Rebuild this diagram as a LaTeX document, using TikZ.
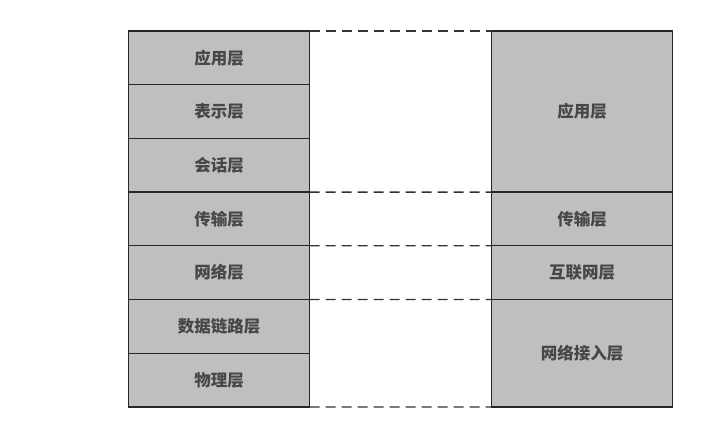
\documentclass[tikz,border=0pt]{standalone}
\usepackage{fontspec}
\newfontfamily\cjk{Noto Sans CJK SC}
\usetikzlibrary{positioning}

\begin{document}
\begin{tikzpicture}[
        x=1pt, y=-1pt,
        node distance=0pt,
        every node/.style={font=\cjk\bfseries\fontsize{16.5}{18}\selectfont, text=black!72},
        layer/.style={rectangle, draw=black!85, line width=1.3pt, fill=black!25, minimum width=181pt, minimum height=53.7pt, inner sep=0pt, outer sep=0pt, align=center},
        gap/.style={dash pattern=on 10pt off 6pt, line width=1.3pt, draw=black!80}
    ]
        \useasboundingbox (0,0) rectangle (714,436);
        % OSI stack
        \node[layer, anchor=north west] (app) at (128.5,31) {应用层};
        \node[layer, below=of app] (pres) {表示层};
        \node[layer, below=of pres] (sess) {会话层};
        \node[layer, below=of sess] (trans) {传输层};
        \node[layer, below=of trans] (net) {网络层};
        \node[layer, below=of net] (link) {数据链路层};
        \node[layer, below=of link] (phys) {物理层};
        % TCP/IP stack
        \node[layer, anchor=north west, minimum height=161.1pt] (tapp) at (491.5,31) {应用层};
        \node[layer, below=of tapp] (ttrans) {传输层};
        \node[layer, below=of ttrans] (tnet) {互联网层};
        \node[layer, below=of tnet, minimum height=107.4pt] (tacc) {网络接入层};
        % dashed correspondences
        \draw[gap] (app.north east) -- (tapp.north west);
        \draw[gap] (trans.north east) -- (ttrans.north west);
        \draw[gap] (net.north east) -- (tnet.north west);
        \draw[gap] (link.north east) -- (tacc.north west);
        \draw[gap] (phys.south east) -- (tacc.south west);
    \end{tikzpicture}
\end{document}
